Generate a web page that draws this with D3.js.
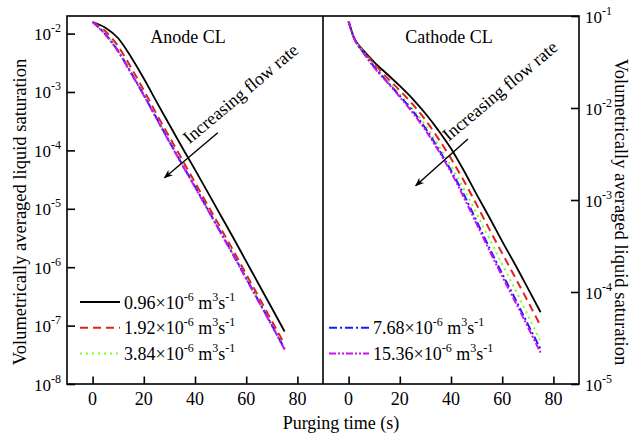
<!DOCTYPE html>
<html><head><meta charset="utf-8">
<script src="https://cdn.jsdelivr.net/npm/d3@7"></script>
<style>
body{margin:0;background:#fff}
svg{display:block}
text{font-family:"Liberation Serif","Times New Roman",serif;fill:#000}
</style>
</head><body>
<svg id="chart" width="630" height="436"></svg>
<script>
// ---------- DATA ----------
const timeAnode = [0,5,10,15,20,25,30,35,40,45,50,55,60,65,70,75];
const anode096  = [1.58e-2,1.26e-2,8.32e-3,3.98e-3,1.70e-3,6.76e-4,2.75e-4,1.12e-4,4.68e-5,1.91e-5,7.76e-6,3.16e-6,1.26e-6,5.01e-7,2.00e-7,7.94e-8];
const anode192  = [1.58e-2,1.10e-2,6.03e-3,2.63e-3,1.07e-3,4.17e-4,1.70e-4,6.92e-5,2.82e-5,1.15e-5,4.68e-6,1.91e-6,7.59e-7,3.02e-7,1.20e-7,4.79e-8];
const anode384  = [1.58e-2,1.00e-2,5.13e-3,2.19e-3,9.12e-4,3.63e-4,1.45e-4,5.89e-5,2.45e-5,1.00e-5,4.07e-6,1.66e-6,6.61e-7,2.63e-7,1.05e-7,4.07e-8];
const anode768  = [1.58e-2,9.77e-3,5.01e-3,2.14e-3,8.91e-4,3.55e-4,1.41e-4,5.75e-5,2.40e-5,9.77e-6,3.98e-6,1.62e-6,6.46e-7,2.57e-7,1.02e-7,3.98e-8];
const anode1536 = [1.58e-2,9.55e-3,4.90e-3,2.09e-3,8.71e-4,3.47e-4,1.38e-4,5.62e-5,2.34e-5,9.55e-6,3.89e-6,1.58e-6,6.31e-7,2.51e-7,1.00e-7,3.89e-8];

const timeCathode = [0,1,2,3,5,10,15,20,25,30,35,40,45,50,55,60,65,70,75];
const cathode096  = [8.71e-2,7.08e-2,5.89e-2,5.25e-2,4.47e-2,3.16e-2,2.34e-2,1.74e-2,1.26e-2,8.71e-3,5.75e-3,3.63e-3,2.09e-3,1.15e-3,6.46e-4,3.55e-4,2.00e-4,1.10e-4,6.03e-5];
const cathode192  = [8.71e-2,7.08e-2,5.89e-2,5.13e-2,4.37e-2,3.02e-2,2.14e-2,1.55e-2,1.10e-2,7.41e-3,4.68e-3,2.82e-3,1.62e-3,8.91e-4,4.79e-4,2.63e-4,1.45e-4,7.94e-5,4.27e-5];
const cathode384  = [8.71e-2,7.08e-2,5.89e-2,5.13e-2,4.37e-2,2.88e-2,2.00e-2,1.41e-2,9.77e-3,6.46e-3,3.98e-3,2.34e-3,1.32e-3,7.08e-4,3.80e-4,2.00e-4,1.07e-4,5.62e-5,2.88e-5];
const cathode768  = [8.71e-2,7.08e-2,5.89e-2,5.13e-2,4.27e-2,2.82e-2,1.95e-2,1.35e-2,9.33e-3,6.03e-3,3.63e-3,2.09e-3,1.15e-3,5.89e-4,3.02e-4,1.58e-4,8.51e-5,4.47e-5,2.40e-5];
const cathode1536 = [8.71e-2,7.08e-2,5.89e-2,5.13e-2,4.27e-2,2.75e-2,1.91e-2,1.32e-2,8.91e-3,5.75e-3,3.47e-3,2.00e-3,1.07e-3,5.50e-4,2.82e-4,1.48e-4,7.94e-5,4.17e-5,2.19e-5];

const flowRates = ["0.96","1.92","3.84","7.68","15.36"];
const xTickValues = [0,20,40,60,80];
const xMinorValues = [10,30,50,70];
const anodeExponents = [-8,-7,-6,-5,-4,-3,-2];
const cathodeExponents = [-5,-4,-3,-2,-1];
const minorMultipliers = [2,4,6,8];
const panelTitles = ["Anode CL","Cathode CL"];
const yTitle = "Volumetrically averaged liquid saturation";
const xTitle = "Purging time (s)";
const annotationText = "Increasing flow rate";
// arrow annotation anchors in data units: [tStart, vStart, tEnd, vEnd]
const anodeArrow = [48.9, 2.0e-4, 28.1, 3.4e-5];
const cathodeArrow = [46.6, 4.6e-3, 26.2, 1.43e-3];
const anodeTextAt = [37.8, 1.26e-4];
const cathodeTextAt = [39.1, 4.3e-3];

(function(){
const styles = [
  {color:"#000000", dash:null,            w:1.8},
  {color:"#e3201c", dash:"8,5",           w:2},
  {color:"#80ff1a", dash:"2,4",           w:2},
  {color:"#1a1aff", dash:"8,3,2,3",       w:2},
  {color:"#cc11ee", dash:"7,2,2,2,2,2",   w:2}
];

const svg = d3.select("#chart");
const plotTop = 16, plotBottom = 384;
const xA = d3.scaleLinear().domain([-10,90]).range([67,323]);
const xC = d3.scaleLinear().domain([-10,90]).range([323,579]);
const yA = d3.scaleLog().domain([1e-8,2e-2]).range([plotBottom,plotTop]);
const yC = d3.scaleLog().domain([1e-5,1e-1]).range([plotBottom,plotTop]);

function minorLog(exps){
  const out=[];
  exps.forEach((e,k)=>{ if(k===exps.length-1) return; minorMultipliers.forEach(m=>out.push(m*Math.pow(10,e))); });
  return out;
}

function drawSeries(x,y,times,series){
  series.forEach((vals,i)=>{
    const pts = times.map((t,j)=>({t, v: vals[j]}));
    const line = d3.line().x(d=>x(d.t)).y(d=>y(d.v)).curve(d3.curveMonotoneX);
    svg.append("path").datum(pts).attr("d",line)
      .attr("fill","none").attr("stroke",styles[i].color)
      .attr("stroke-width",styles[i].w)
      .attr("stroke-dasharray",styles[i].dash);
  });
}
drawSeries(xA,yA,timeAnode,[anode096,anode192,anode384,anode768,anode1536]);
drawSeries(xC,yC,timeCathode,[cathode096,cathode192,cathode384,cathode768,cathode1536]);

const axW = 1.6;
function xAxis(x){
  const g = svg.append("g").attr("transform",`translate(0,${plotBottom})`);
  g.call(d3.axisBottom(x).tickValues(xMinorValues).tickSizeInner(-4).tickSizeOuter(0).tickFormat(""));
  g.call(d3.axisBottom(x).tickValues(xTickValues).tickSizeInner(-7.5).tickSizeOuter(0).tickFormat(""));
  g.selectAll("line").attr("stroke","#000").attr("stroke-width",axW);
  g.selectAll(".domain").remove();
  xTickValues.forEach(v=>{
    svg.append("text").attr("x",x(v)).attr("y",405).attr("text-anchor","middle")
      .attr("font-size",18).text(v);
  });
}
xAxis(xA); xAxis(xC);

function supLabel(sel, base, sup){
  sel.append("tspan").text(base);
  sel.append("tspan").attr("font-size",12).attr("dy",-8).text(sup);
}

{
  const g = svg.append("g").attr("transform",`translate(67,0)`);
  g.call(d3.axisLeft(yA).tickValues(minorLog(anodeExponents)).tickSizeInner(-4.5).tickSizeOuter(0).tickFormat(""));
  g.call(d3.axisLeft(yA).tickValues(anodeExponents.map(e=>Math.pow(10,e))).tickSizeInner(-8).tickSizeOuter(0).tickFormat(""));
  g.selectAll("line").attr("stroke","#000").attr("stroke-width",axW);
  g.selectAll(".domain").remove();
  anodeExponents.forEach(e=>{
    const t = svg.append("text").attr("x",61).attr("y",yA(Math.pow(10,e))+6.5)
      .attr("text-anchor","end").attr("font-size",17);
    supLabel(t,"10",String(e));
  });
}
{
  const g = svg.append("g").attr("transform",`translate(579,0)`);
  g.call(d3.axisRight(yC).tickValues(minorLog(cathodeExponents)).tickSizeInner(-4.5).tickSizeOuter(0).tickFormat(""));
  g.call(d3.axisRight(yC).tickValues(cathodeExponents.map(e=>Math.pow(10,e))).tickSizeInner(-8).tickSizeOuter(0).tickFormat(""));
  g.selectAll("line").attr("stroke","#000").attr("stroke-width",axW);
  g.selectAll(".domain").remove();
  cathodeExponents.forEach(e=>{
    const t = svg.append("text").attr("x",585).attr("y",yC(Math.pow(10,e))+6.5)
      .attr("text-anchor","start").attr("font-size",17);
    supLabel(t,"10",String(e));
  });
}

const frame = svg.append("g").attr("stroke","#000").attr("stroke-width",axW).attr("fill","none");
frame.append("rect").attr("x",xA(-10)).attr("y",plotTop).attr("width",xC(90)-xA(-10)).attr("height",plotBottom-plotTop);
frame.append("line").attr("x1",xA(90)).attr("x2",xA(90)).attr("y1",plotTop).attr("y2",plotBottom);

svg.append("text").attr("x",188).attr("y",43).attr("text-anchor","middle").attr("font-size",18).text(panelTitles[0]);
svg.append("text").attr("x",449).attr("y",43).attr("text-anchor","middle").attr("font-size",18).text(panelTitles[1]);
svg.append("text").attr("x",341).attr("y",429).attr("text-anchor","middle").attr("font-size",18).text(xTitle);
svg.append("text").attr("transform","translate(26,212) rotate(-90)").attr("text-anchor","middle").attr("font-size",18.5).text(yTitle);
svg.append("text").attr("transform","translate(615,212) rotate(90)").attr("text-anchor","middle").attr("font-size",18.5).text(yTitle);

const defs = svg.append("defs");
defs.append("marker").attr("id","ah").attr("viewBox","0 0 10 10").attr("refX",9).attr("refY",5)
  .attr("markerWidth",9).attr("markerHeight",9).attr("markerUnits","userSpaceOnUse").attr("orient","auto")
  .append("path").attr("d","M0,1 L10,5 L0,9 L3,5 Z").attr("fill","#000");
function arrow(x,y,a){
  svg.append("line").attr("x1",x(a[0])).attr("y1",y(a[1])).attr("x2",x(a[2])).attr("y2",y(a[3]))
    .attr("stroke","#000").attr("stroke-width",1.4).attr("marker-end","url(#ah)");
}
arrow(xA,yA,anodeArrow); arrow(xC,yC,cathodeArrow);
svg.append("text").attr("transform",`translate(${xA(anodeTextAt[0])},${yA(anodeTextAt[1])}) rotate(-40)`).attr("font-size",18).text(annotationText);
svg.append("text").attr("transform",`translate(${xC(cathodeTextAt[0])},${yC(cathodeTextAt[1])}) rotate(-40)`).attr("font-size",18).text(annotationText);

function legendRow(x0, y, i){
  svg.append("line").attr("x1",x0).attr("x2",x0+40).attr("y1",y).attr("y2",y)
    .attr("stroke",styles[i].color).attr("stroke-width",styles[i].w).attr("stroke-dasharray",styles[i].dash);
  const t = svg.append("text").attr("x",x0+44).attr("y",y+6.5).attr("font-size",18);
  t.append("tspan").text(flowRates[i]+"\u00d710");
  t.append("tspan").attr("font-size",12).attr("dy",-8).text("-6");
  t.append("tspan").attr("dy",8).text(" m");
  t.append("tspan").attr("font-size",12).attr("dy",-8).text("3");
  t.append("tspan").attr("dy",8).text("s");
  t.append("tspan").attr("font-size",12).attr("dy",-8).text("-1");
}
[0,1,2].forEach(i=>legendRow(80, 302+25.7*i, i));
[3,4].forEach(i=>legendRow(329, 302+25.7*(i-2), i));
})();
</script>
</body></html>
